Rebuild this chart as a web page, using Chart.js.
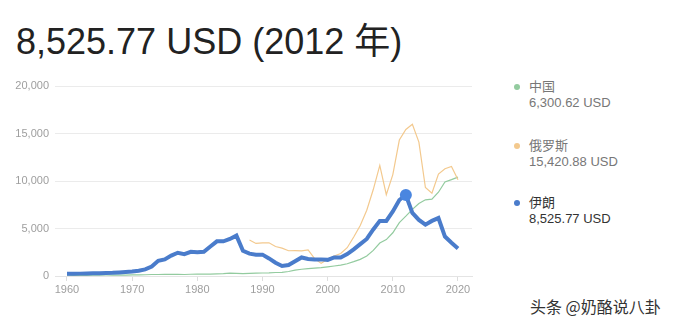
<!DOCTYPE html>
<html>
<head>
<meta charset="utf-8">
<script src="https://cdn.jsdelivr.net/npm/chart.js@4/dist/chart.umd.min.js"></script>
<style>
  body { margin: 0; width: 680px; height: 325px; background: #fff; position: relative; overflow: hidden;
         font-family: "Liberation Sans", Arial, "Noto Sans CJK SC", sans-serif; }
  #title { position: absolute; left: 16px; top: 24px; font-size: 36px; line-height: 36px; color: #222; white-space: nowrap; }
  #chartBox { position: absolute; left: 0; top: 0; width: 480px; height: 300px; }
  .legend { position: absolute; left: 529px; font-size: 13px; line-height: 16px; color: #777; }
  .legend .dot { position: absolute; left: -15px; top: 5px; width: 6px; height: 6px; border-radius: 50%; }
  .legend.active { color: #333; }
  #mark { position: absolute; left: 530px; top: 296px; font-size: 16px; line-height: 20px; color: #333;
          font-family: "Noto Sans CJK SC", sans-serif; text-shadow: 0 0 2px #fff, 1px 1px 1px #fff; }
</style>
</head>
<body>
<div id="title">8,525.77 USD (2012 年)</div>
<div id="chartBox"><canvas id="chart" width="480" height="300"></canvas></div>
<div id="legend"></div>
<div id="mark">头条 @奶酪说八卦</div>
<script>
// 年份
const yearsChina = Array.from({length: 61}, (_, i) => 1960 + i);
const yearsIran = yearsChina;
const yearsRussia = Array.from({length: 33}, (_, i) => 1988 + i);

// 人均 GDP (USD)
const chinaValues = [90, 76, 70, 74, 85, 98, 104, 97, 91, 100,
    113, 119, 132, 157, 160, 178, 165, 185, 156, 184,
    195, 197, 203, 225, 251, 294, 282, 252, 284, 311,
    318, 333, 366, 377, 473, 610, 709, 782, 829, 873,
    959, 1053, 1149, 1289, 1509, 1753, 2099, 2694, 3468, 3832,
    4550, 5618, 6300.62, 7020, 7636, 8017, 8094, 8817, 9905, 10144,
    10409];
const russiaValues = [3780, 3430, 3490, 3490, 3100, 2930, 2660, 2670, 2640, 2740,
    1840, 1330, 1770, 2100, 2375, 2976, 4102, 5323, 6920, 9101,
    11635, 8563, 10675, 14311, 15420.88, 15974, 14096, 9313, 8705, 10720,
    11287, 11536, 10127];
const iranValues = [240, 245, 250, 260, 280, 300, 320, 340, 380, 420,
    470, 560, 700, 1000, 1600, 1750, 2150, 2450, 2300, 2550,
    2500, 2550, 3100, 3650, 3650, 3900, 4250, 2650, 2350, 2250,
    2250, 1850, 1400, 1050, 1150, 1550, 1950, 1800, 1750, 1750,
    1700, 1950, 1950, 2300, 2800, 3350, 3900, 4900, 5800, 5800,
    6800, 8000, 8525.77, 6650, 5900, 5400, 5800, 6100, 4150, 3500,
    2900];

const xTicks = [1960, 1970, 1980, 1990, 2000, 2010, 2020];
const yTicks = [0, 5000, 10000, 15000, 20000];
const selectedYear = 2012;

const series = [
    {name: '中国', years: yearsChina, values: chinaValues, color: '#93cb9f', width: 1.2},
    {name: '俄罗斯', years: yearsRussia, values: russiaValues, color: '#f3c98e', width: 1.2},
    {name: '伊朗', years: yearsIran, values: iranValues, color: '#4a7ccb', width: 4}
];

function fmt(v) {
    return v.toLocaleString('en-US', {minimumFractionDigits: 2, maximumFractionDigits: 2});
}

// 图例
const legendTops = [79, 138, 195];
const legendDiv = document.getElementById('legend');
legendDiv.innerHTML = series.map((s, i) => {
    const v = s.values[s.years.indexOf(selectedYear)];
    return `<div class="legend${i === 2 ? ' active' : ''}" style="top:${legendTops[i]}px">` +
        `<span class="dot" style="background:${s.color}"></span>${s.name}<br>${fmt(v)} USD</div>`;
}).join('');

const datasets = series.map((s, i) => ({
    label: s.name,
    data: s.years.map((y, j) => ({x: y, y: s.values[j]})),
    borderColor: s.color,
    backgroundColor: i === 2 ? '#4a86e0' : s.color,
    borderWidth: s.width,
    tension: 0,
    pointRadius: i === 2 ? (c => c.raw && c.raw.x === selectedYear ? 6 : 0) : 0,
    pointBorderWidth: 0,
    order: 2 - i
}));

new Chart(document.getElementById('chart'), {
    type: 'line',
    data: {datasets: datasets},
    options: {
        responsive: false,
        animation: false,
        layout: {padding: {top: 86, right: 8, left: 0, bottom: 0}},
        plugins: {legend: {display: false}, tooltip: {enabled: false}},
        scales: {
            x: {
                type: 'linear',
                min: 1958.16,
                max: 2022.15,
                afterBuildTicks: scale => { scale.ticks = xTicks.map(v => ({value: v})); },
                afterFit: scale => { scale.height = 24; },
                grid: {drawOnChartArea: false, drawTicks: true, tickLength: 5, color: '#dddddd'},
                border: {color: '#e4e4e4'},
                ticks: {color: '#9e9e9e', font: {size: 11, family: 'Liberation Sans'}, padding: 2,
                        callback: v => String(v), maxRotation: 0}
            },
            y: {
                min: 0,
                max: 20000,
                afterBuildTicks: scale => { scale.ticks = yTicks.map(v => ({value: v})); },
                afterFit: scale => { scale.width = 55; },
                grid: {color: '#ebebeb', drawTicks: false},
                border: {display: false},
                ticks: {color: '#9e9e9e', font: {size: 11, family: 'Liberation Sans'}, padding: 6,
                        callback: v => v.toLocaleString('en-US')}
            }
        }
    }
});
</script>
</body>
</html>
